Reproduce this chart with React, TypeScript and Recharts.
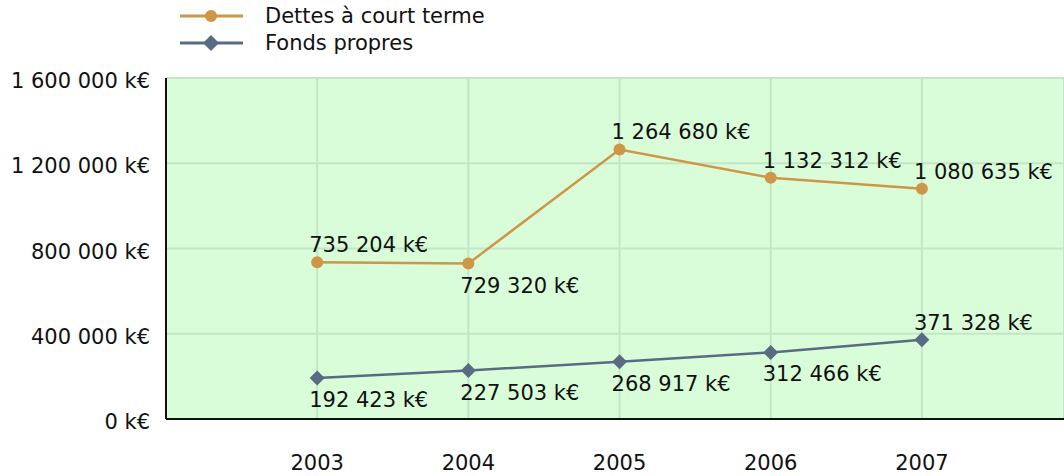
import React from 'react';
import { LineChart, Line, XAxis, YAxis, CartesianGrid, Legend, LabelList } from 'recharts';

const YEARS = [2003, 2004, 2005, 2006, 2007];
const DETTES_COURT_TERME = [735204, 729320, 1264680, 1132312, 1080635];
const FONDS_PROPRES = [192423, 227503, 268917, 312466, 371328];
const Y_TICKS = [0, 400000, 800000, 1200000, 1600000];

const SERIES_NAMES = ['Dettes à court terme', 'Fonds propres'];

const data = YEARS.map((year, i) => ({
    year,
    dettes: DETTES_COURT_TERME[i],
    fonds: FONDS_PROPRES[i],
}));

const ORANGE = '#cf9648';
const BLUE = '#596a83';
const FONT = '"DejaVu Sans", sans-serif';
const FS = 21;

// which labels sit under their point
const DETTES_BELOW = [false, true, false, false, false];
const FONDS_BELOW = [true, true, true, true, false];

const fmt = (v: number) => String(v).replace(/\B(?=(\d{3})+(?!\d))/g, ' ') + ' k€';

const makeLabel = (below: boolean[]) => (props: any) => {
    const { x, y, value, index } = props;
    const dy = below[index] ? 29 : -10;
    return (
        <text x={x - 8} y={y + dy} fontSize={FS} fontFamily={FONT} fill="#111" textAnchor="start">
            {fmt(value)}
        </text>
    );
};

const Diamond = (props: any) => {
    const { cx, cy, index } = props;
    const s = 7.5;
    return (
        <path
            key={`d-${index}`}
            d={`M${cx},${cy - s}L${cx + s},${cy}L${cx},${cy + s}L${cx - s},${cy}Z`}
            fill={BLUE}
        />
    );
};

const YTick = (props: any) => {
    const { x, y, payload } = props;
    return (
        <text x={x} y={y + 10} fontSize={FS} fontFamily={FONT} fill="#111" textAnchor="end">
            {fmt(payload.value)}
        </text>
    );
};

const XTick = (props: any) => {
    const { x, y, payload } = props;
    return (
        <text x={x} y={y + 33} fontSize={FS} fontFamily={FONT} fill="#111" textAnchor="middle">
            {payload.value}
        </text>
    );
};

const LegendContent = () => (
    <svg width={560} height={60}>
        {SERIES_NAMES.map((name, i) => {
            const cy = 16 + i * 27;
            const color = i === 0 ? ORANGE : BLUE;
            return (
                <g key={name}>
                    <line x1={180} x2={243} y1={cy} y2={cy} stroke={color} strokeWidth={3} />
                    {i === 0 ? (
                        <circle cx={211} cy={cy} r={6} fill={color} />
                    ) : (
                        <path d={`M211,${cy - 8}L219,${cy}L211,${cy + 8}L203,${cy}Z`} fill={color} />
                    )}
                    <text x={265} y={cy + 7} fontSize={FS} fontFamily={FONT} fill="#111">
                        {name}
                    </text>
                </g>
            );
        })}
    </svg>
);

export default function App() {
    return (
        <div style={{ position: 'absolute', left: 0, top: 0, background: '#fff' }}>
            <LineChart width={1064} height={476} data={data} margin={{ top: 78, right: 0, bottom: 0, left: 0 }}>
                <CartesianGrid fill="#d9fdd8" stroke="#c3e6c6" strokeWidth={2} />
                <XAxis
                    dataKey="year"
                    type="number"
                    domain={[2002, 2007.94]}
                    ticks={YEARS}
                    tickLine={false}
                    height={57}
                    tick={<XTick />}
                    tickMargin={12}
                    stroke="#111"
                    strokeWidth={2}
                    allowDataOverflow
                />
                <YAxis
                    domain={[0, 1600000]}
                    ticks={Y_TICKS}
                    width={166}
                    tickLine={false}
                    tickMargin={10}
                    tick={<YTick />}
                    stroke="#111"
                    strokeWidth={2}
                />
                <Legend
                    layout="vertical"
                    align="center"
                    verticalAlign="middle"
                    content={<LegendContent />}
                    wrapperStyle={{ top: 0, left: 0, width: 560 }}
                />
                <Line
                    dataKey="dettes"
                    name={SERIES_NAMES[0]}
                    stroke={ORANGE}
                    strokeWidth={2.5}
                    dot={{ r: 6, fill: ORANGE, stroke: 'none' }}
                    isAnimationActive={false}
                >
                    <LabelList dataKey="dettes" content={makeLabel(DETTES_BELOW)} />
                </Line>
                <Line
                    dataKey="fonds"
                    name={SERIES_NAMES[1]}
                    stroke={BLUE}
                    strokeWidth={2.5}
                    dot={<Diamond />}
                    isAnimationActive={false}
                >
                    <LabelList dataKey="fonds" content={makeLabel(FONDS_BELOW)} />
                </Line>
            </LineChart>
        </div>
    );
}
